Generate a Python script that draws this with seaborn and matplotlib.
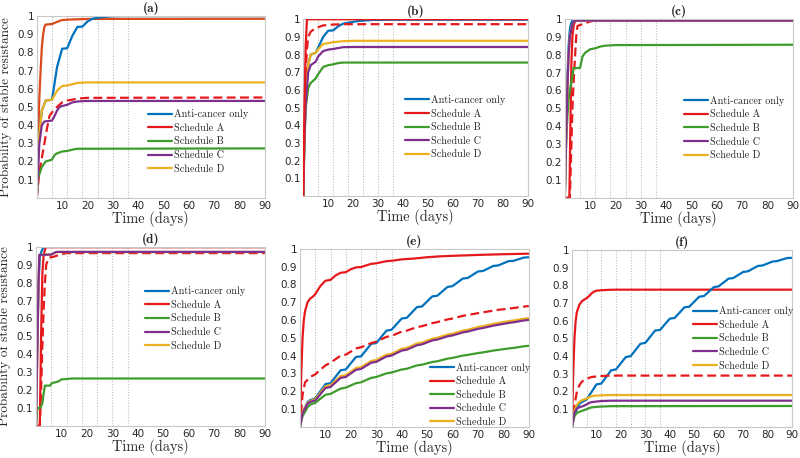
import matplotlib
matplotlib.use("Agg")
import matplotlib.pyplot as plt
import seaborn as sns

# ---------------- data ----------------
panel_titles = ["(a)", "(b)", "(c)", "(d)", "(e)", "(f)"]
legend_labels = ["Anti-cancer only", "Schedule A", "Schedule B", "Schedule C", "Schedule D"]
x_ticks = [10, 20, 30, 40, 50, 60, 70, 80, 90]
y_ticks = [0.1, 0.2, 0.3, 0.4, 0.5, 0.6, 0.7, 0.8, 0.9, 1.0]
y_tick_labels = ["0.1", "0.2", "0.3", "0.4", "0.5", "0.6", "0.7", "0.8", "0.9", "1"]
dose_days = [6, 12, 18, 24, 30, 36]

# (a)
a_blue_t = [0, 0.5, 1, 2, 3.5, 6, 8, 10, 12, 14, 16, 18, 20, 22, 25, 30, 35, 90]
a_blue_y = [0, 0.2, 0.35, 0.48, 0.535, 0.54, 0.72, 0.82, 0.823, 0.89, 0.94, 0.942, 0.97, 0.985, 0.993, 0.999, 1.0, 1.0]
a_red_t = [0, 0.5, 1, 1.5, 2, 2.5, 3, 3.5, 6, 8, 10, 12, 20, 90]
a_red_y = [0, 0.3, 0.55, 0.7, 0.83, 0.9, 0.94, 0.953, 0.956, 0.968, 0.978, 0.98, 0.984, 0.985]
a_dash_t = [0, 1, 2, 3, 4, 5, 6, 8, 10, 12, 14, 16, 20, 90]
a_dash_y = [0, 0.14, 0.22, 0.3, 0.38, 0.45, 0.47, 0.5, 0.525, 0.535, 0.54, 0.546, 0.55, 0.552]
a_green_t = [0, 0.3, 1, 2, 3.5, 6, 7, 8, 10, 12, 14, 16, 90]
a_green_y = [0, 0.1, 0.13, 0.17, 0.2, 0.21, 0.235, 0.245, 0.255, 0.258, 0.265, 0.27, 0.272]
a_purple_t = [0, 0.5, 1, 2, 3, 6, 7, 8, 9, 10, 12, 14, 16, 20, 90]
a_purple_y = [0, 0.15, 0.3, 0.4, 0.42, 0.425, 0.45, 0.48, 0.5, 0.505, 0.512, 0.525, 0.53, 0.533, 0.533]
a_yellow_t = [0, 0.5, 1, 2, 3.5, 6, 8, 10, 12, 14, 16, 20, 90]
a_yellow_y = [0, 0.2, 0.35, 0.48, 0.535, 0.54, 0.59, 0.615, 0.618, 0.625, 0.632, 0.635, 0.635]

# (b)
b_blue_t = [0, 0.5, 1, 2, 3, 5, 6, 8, 10, 12, 14, 16, 18, 22, 28, 35, 90]
b_blue_y = [0, 0.35, 0.55, 0.74, 0.8, 0.81, 0.84, 0.9, 0.935, 0.937, 0.96, 0.975, 0.98, 0.99, 0.996, 0.997, 0.997]
b_red_t = [0, 0.5, 1, 1.5, 90]
b_red_y = [0, 0.5, 0.85, 1.0, 1.0]
b_dash_t = [0, 0.5, 1, 1.5, 2, 3, 5, 8, 12, 16, 90]
b_dash_y = [0, 0.4, 0.7, 0.83, 0.9, 0.93, 0.95, 0.965, 0.97, 0.972, 0.972]
b_green_t = [0, 0.5, 1, 2, 3, 5, 6, 8, 10, 12, 14, 16, 90]
b_green_y = [0, 0.3, 0.5, 0.61, 0.64, 0.665, 0.69, 0.73, 0.74, 0.745, 0.752, 0.755, 0.755]
b_purple_t = [0, 0.5, 1, 2, 3, 5, 6, 8, 10, 12, 16, 20, 90]
b_purple_y = [0, 0.33, 0.52, 0.7, 0.74, 0.76, 0.79, 0.82, 0.828, 0.832, 0.842, 0.843, 0.843]
b_yellow_t = [0, 0.5, 1, 2, 3, 5, 6, 8, 10, 12, 16, 20, 90]
b_yellow_y = [0, 0.35, 0.55, 0.74, 0.8, 0.81, 0.83, 0.86, 0.865, 0.87, 0.876, 0.878, 0.878]

# (c)
c_blue_t = [0, 0.5, 1, 1.5, 2, 2.5, 3, 4, 90]
c_blue_y = [0, 0.35, 0.65, 0.85, 0.94, 0.975, 0.99, 0.995, 0.995]
c_red_t = [0, 1.8, 2.2, 2.6, 3, 3.5, 4, 5, 90]
c_red_y = [0, 0, 0.4, 0.75, 0.9, 0.96, 0.985, 0.99, 0.99]
c_dash_t = [0, 2, 2.5, 3, 3.5, 4, 4.5, 5, 6, 8, 10, 12, 90]
c_dash_y = [0, 0, 0.25, 0.5, 0.65, 0.78, 0.9, 0.96, 0.965, 0.975, 0.985, 0.99, 0.99]
c_green_t = [0, 0.5, 1, 1.5, 2, 3, 3.5, 6, 7, 8, 10, 12, 14, 16, 20, 90]
c_green_y = [0, 0.3, 0.45, 0.55, 0.6, 0.68, 0.725, 0.725, 0.79, 0.81, 0.83, 0.835, 0.845, 0.85, 0.853, 0.855]
c_purple_t = [0, 0.5, 1, 1.5, 2, 3, 4, 90]
c_purple_y = [0, 0.3, 0.6, 0.8, 0.9, 0.97, 0.99, 0.99]
c_yellow_t = [0, 0.5, 1, 1.5, 2, 3, 4, 90]
c_yellow_y = [0, 0.3, 0.6, 0.8, 0.9, 0.97, 0.99, 0.99]

# (d)
d_blue_t = [0, 0.5, 1, 1.5, 2, 3, 90]
d_blue_y = [0, 0.5, 0.8, 0.94, 0.97, 1.0, 1.0]
d_red_t = [0, 1.5, 2, 2.5, 3, 3.5, 4, 90]
d_red_y = [0, 0, 0.5, 0.85, 0.95, 0.985, 0.998, 0.998]
d_dash_t = [0, 1.5, 2, 2.5, 3, 3.5, 4, 5, 6, 7, 8, 10, 12, 90]
d_dash_y = [0, 0, 0.2, 0.45, 0.65, 0.8, 0.9, 0.94, 0.942, 0.945, 0.95, 0.96, 0.965, 0.965]
d_green_t = [0, 0.5, 1.5, 2, 2.5, 3, 3.5, 5.5, 6, 6.5, 8, 9, 10, 12, 14, 90]
d_green_y = [0, 0.1, 0.1, 0.11, 0.125, 0.18, 0.225, 0.225, 0.235, 0.24, 0.245, 0.25, 0.26, 0.262, 0.265, 0.265]
d_purple_t = [0, 0.5, 1, 1.3, 6, 7, 8, 90]
d_purple_y = [0, 0.4, 0.8, 0.955, 0.957, 0.965, 0.972, 0.972]
d_yellow_t = [0, 0.5, 1, 1.3, 6, 7, 8, 90]
d_yellow_y = [0, 0.4, 0.8, 0.955, 0.957, 0.965, 0.971, 0.971]

# (e)
e_t = [0, 1, 3, 4, 6, 10, 12, 16, 18, 22, 24, 28, 30, 34, 36, 40, 42, 46, 48, 52, 54, 58, 60, 64, 66, 70, 72, 76, 78, 82, 84, 88, 90]
e_blue_y = [0, 0.08, 0.14, 0.15, 0.16, 0.24, 0.245, 0.318, 0.322, 0.392, 0.396, 0.466, 0.47, 0.54, 0.545, 0.608, 0.612,
            0.672, 0.676, 0.732, 0.736, 0.785, 0.79, 0.832, 0.836, 0.872, 0.875, 0.903, 0.906, 0.93, 0.932, 0.95, 0.952]
e_red_t = [0, 0.5, 1, 1.5, 2, 3, 4, 5, 6, 8, 10, 12, 14, 16, 18, 20, 22, 24, 28, 30, 34, 36, 40, 45, 50, 55, 60, 70, 80, 90]
e_red_y = [0, 0.3, 0.5, 0.6, 0.65, 0.7, 0.72, 0.73, 0.745, 0.79, 0.82, 0.825, 0.85, 0.865, 0.868, 0.885, 0.895, 0.897,
           0.915, 0.918, 0.93, 0.932, 0.94, 0.945, 0.952, 0.957, 0.96, 0.965, 0.969, 0.972]
e_dash_t = [0, 1, 2, 4, 6, 10, 12, 16, 18, 22, 24, 28, 30, 34, 36, 40, 42, 46, 48, 52, 54, 58, 60, 64, 66, 70, 72, 76, 78, 82, 84, 88, 90]
e_dash_y = [0, 0.18, 0.25, 0.28, 0.295, 0.345, 0.36, 0.4, 0.405, 0.44, 0.447, 0.47, 0.478, 0.505, 0.51, 0.535, 0.54,
            0.56, 0.565, 0.582, 0.588, 0.603, 0.608, 0.623, 0.628, 0.638, 0.643, 0.652, 0.657, 0.663, 0.667, 0.675, 0.678]
e_green_y = [0, 0.06, 0.11, 0.125, 0.135, 0.18, 0.185, 0.215, 0.22, 0.245, 0.25, 0.275, 0.28, 0.3, 0.305, 0.322, 0.326,
             0.345, 0.349, 0.364, 0.368, 0.383, 0.387, 0.4, 0.404, 0.414, 0.418, 0.428, 0.432, 0.44, 0.443, 0.452, 0.455]
e_purple_y = [0, 0.075, 0.13, 0.14, 0.148, 0.218, 0.224, 0.275, 0.28, 0.32, 0.325, 0.36, 0.365, 0.395, 0.4, 0.428, 0.433,
              0.458, 0.463, 0.485, 0.49, 0.508, 0.513, 0.53, 0.535, 0.55, 0.555, 0.568, 0.573, 0.583, 0.587, 0.597, 0.6]
e_yellow_y = [0, 0.08, 0.135, 0.145, 0.155, 0.228, 0.234, 0.285, 0.29, 0.33, 0.335, 0.37, 0.375, 0.405, 0.41, 0.438, 0.443,
              0.468, 0.473, 0.495, 0.5, 0.518, 0.523, 0.54, 0.545, 0.56, 0.565, 0.578, 0.583, 0.593, 0.597, 0.607, 0.61]

# (f)
f_blue_y = [0, 0.07, 0.13, 0.14, 0.155, 0.24, 0.245, 0.32, 0.325, 0.395, 0.4, 0.47, 0.475, 0.545, 0.548, 0.612, 0.616,
            0.676, 0.68, 0.736, 0.74, 0.79, 0.795, 0.838, 0.842, 0.876, 0.88, 0.91, 0.913, 0.935, 0.938, 0.955, 0.956]
f_red_t = [0, 0.5, 1, 1.5, 2, 3, 4, 5, 6, 7, 8, 9, 10, 12, 15, 18, 90]
f_red_y = [0, 0.3, 0.5, 0.6, 0.65, 0.69, 0.71, 0.72, 0.728, 0.74, 0.755, 0.765, 0.77, 0.773, 0.775, 0.776, 0.776]
f_dash_t = [0, 1, 2, 3, 4, 5, 6, 7, 8, 10, 12, 14, 18, 90]
f_dash_y = [0, 0.12, 0.2, 0.235, 0.255, 0.265, 0.27, 0.277, 0.282, 0.285, 0.287, 0.289, 0.29, 0.29]
f_green_t = [0, 1, 2, 4, 5, 6, 7, 8, 10, 12, 16, 90]
f_green_y = [0, 0.06, 0.08, 0.09, 0.095, 0.1, 0.106, 0.11, 0.113, 0.115, 0.117, 0.118]
f_purple_t = [0, 1, 2, 4, 5, 6, 7, 8, 10, 12, 16, 90]
f_purple_y = [0, 0.08, 0.105, 0.115, 0.12, 0.127, 0.135, 0.14, 0.143, 0.146, 0.148, 0.148]
f_yellow_t = [0, 1, 2, 3, 4, 5, 6, 7, 8, 9, 12, 16, 90]
f_yellow_y = [0, 0.09, 0.125, 0.14, 0.15, 0.155, 0.16, 0.168, 0.173, 0.176, 0.178, 0.18, 0.18]

# ---------------- styling ----------------
BLUE, RED, GREEN, PURPLE, YELLOW = "#0072BD", "#E5191C", "#3E9C2C", "#7E2F8E", "#EDB120"
ORANGE = "#DA4A1A"

panels = [
    dict(blue=(a_blue_t, a_blue_y), red=(a_red_t, a_red_y), dash=(a_dash_t, a_dash_y),
         green=(a_green_t, a_green_y), purple=(a_purple_t, a_purple_y), yellow=(a_yellow_t, a_yellow_y),
         red_color=ORANGE, red_top=False,
         rect=[0.046, 0.568, 0.285, 0.397], leg=(0.487, 0.31)),
    dict(blue=(b_blue_t, b_blue_y), red=(b_red_t, b_red_y), dash=(b_dash_t, b_dash_y),
         green=(b_green_t, b_green_y), purple=(b_purple_t, b_purple_y), yellow=(b_yellow_t, b_yellow_y),
         red_color=RED, red_top=True,
         rect=[0.379, 0.572, 0.281, 0.386], leg=(0.453, 0.39)),
    dict(blue=(c_blue_t, c_blue_y), red=(c_red_t, c_red_y), dash=(c_dash_t, c_dash_y),
         green=(c_green_t, c_green_y), purple=(c_purple_t, c_purple_y), yellow=(c_yellow_t, c_yellow_y),
         red_color=RED, red_top=False,
         rect=[0.706, 0.568, 0.285, 0.391], leg=(0.522, 0.39)),
    dict(blue=(d_blue_t, d_blue_y), red=(d_red_t, d_red_y), dash=(d_dash_t, d_dash_y),
         green=(d_green_t, d_green_y), purple=(d_purple_t, d_purple_y), yellow=(d_yellow_t, d_yellow_y),
         red_color=RED, red_top=False,
         rect=[0.045, 0.070, 0.286, 0.391], leg=(0.476, 0.60)),
    dict(blue=(e_t, e_blue_y), red=(e_red_t, e_red_y), dash=(e_dash_t, e_dash_y),
         green=(e_t, e_green_y), purple=(e_t, e_purple_y), yellow=(e_t, e_yellow_y),
         red_color=RED, red_top=False,
         rect=[0.375, 0.068, 0.286, 0.389], leg=(0.568, 0.18)),
    dict(blue=(e_t, f_blue_y), red=(f_red_t, f_red_y), dash=(f_dash_t, f_dash_y),
         green=(f_green_t, f_green_y), purple=(f_purple_t, f_purple_y), yellow=(f_yellow_t, f_yellow_y),
         red_color=RED, red_top=False,
         rect=[0.715, 0.068, 0.275, 0.386], leg=(0.55, 0.50)),
]

sns.set_theme(style="white")
plt.rcParams["font.family"] = ["DejaVu Sans"]

fig = plt.figure(figsize=(8.0, 4.58), dpi=100)
LW = 1.6
serif = "cmr10"
serif_bold = "cmb10"

for i, p in enumerate(panels):
    ax = fig.add_axes(p["rect"])
    for d in dose_days:
        ax.axvline(d, color="#BDBDBD", ls=(0, (1, 1.5)), lw=0.8, zorder=0.5)
    red_z = 2.6 if p["red_top"] else 2.0
    sns.lineplot(x=p["red"][0], y=p["red"][1], ax=ax, color=p["red_color"], lw=LW,
                 estimator=None, sort=False, zorder=red_z, label=legend_labels[1])
    sns.lineplot(x=p["blue"][0], y=p["blue"][1], ax=ax, color=BLUE, lw=LW,
                 estimator=None, sort=False, zorder=2.1, label=legend_labels[0])
    sns.lineplot(x=p["dash"][0], y=p["dash"][1], ax=ax, color=RED, lw=LW,
                 estimator=None, sort=False, zorder=2.2)
    ax.lines[-1].set_linestyle((0, (4, 2)))
    sns.lineplot(x=p["green"][0], y=p["green"][1], ax=ax, color=GREEN, lw=LW,
                 estimator=None, sort=False, zorder=2.3, label=legend_labels[2])
    sns.lineplot(x=p["yellow"][0], y=p["yellow"][1], ax=ax, color=YELLOW, lw=LW,
                 estimator=None, sort=False, zorder=2.4, label=legend_labels[4])
    sns.lineplot(x=p["purple"][0], y=p["purple"][1], ax=ax, color=PURPLE, lw=LW,
                 estimator=None, sort=False, zorder=2.5, label=legend_labels[3])

    ax.set_xlim(0, 90)
    ax.set_ylim(0, 1)
    ax.set_xticks(x_ticks)
    ax.set_yticks(y_ticks)
    ax.set_yticklabels(y_tick_labels)
    ax.tick_params(axis="both", length=0, labelsize=7.5, labelcolor="#262626", pad=2)
    for s in ax.spines.values():
        s.set_color("#C8C8C8")
        s.set_linewidth(0.8)
    ax.set_xlabel("Time (days)", fontfamily=serif, fontsize=10.3, labelpad=0)
    if i % 3 == 0:
        ax.set_ylabel("Probability of stable resistance", fontfamily=serif, fontsize=9.6, labelpad=4)
    else:
        ax.set_ylabel("")
    ax.set_title(panel_titles[i], fontfamily=serif_bold, fontsize=9.5, pad=3)

    handles, labels = ax.get_legend_handles_labels()
    order = [labels.index(l) for l in legend_labels]
    leg = ax.legend([handles[k] for k in order], [labels[k] for k in order],
                    loc="center left", bbox_to_anchor=p["leg"], frameon=False,
                    prop={"family": serif, "size": 7.3}, handlelength=2.4, handletextpad=0.2,
                    labelspacing=0.4, borderpad=0, borderaxespad=0)
    leg.legend_handles[1].set_color(RED)

fig.savefig("out.png", dpi=100)
